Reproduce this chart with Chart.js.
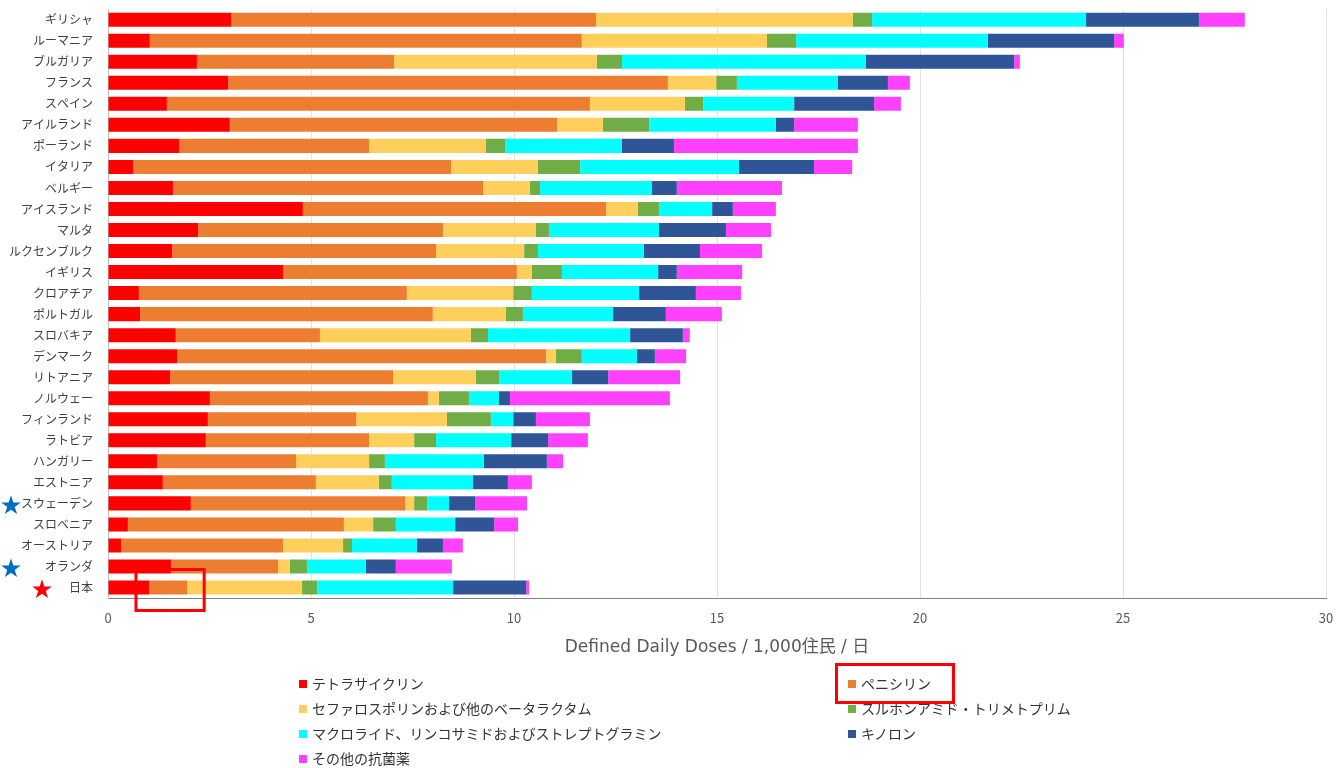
<!DOCTYPE html>
<html lang="ja">
<head>
<meta charset="utf-8">
<title>抗菌薬使用量の国際比較</title>
<script src="https://cdn.jsdelivr.net/npm/chart.js@4/dist/chart.umd.min.js"></script>
<style>
  html, body { margin: 0; padding: 0; background: #ffffff; }
  #wrap { position: relative; width: 1340px; height: 768px; overflow: hidden; }
  #chart { position: absolute; left: 0; top: 0; }
  #legend {
    position: absolute; left: 299px; top: 671px;
    display: grid; grid-template-columns: 549px auto;
    font-family: "Noto Sans CJK JP", "Noto Sans", sans-serif;
    font-size: 14px; color: #333333;
  }
  .item { height: 25px; line-height: 25px; display: flex; align-items: center; white-space: nowrap; }
  .swatch { width: 8px; height: 8px; margin-right: 5px; flex: none; }
  #legendBox {
    position: absolute; left: 835px; top: 663px; width: 120px; height: 41px;
    border: 3px solid #ff0000; box-sizing: border-box; z-index: 2;
  }
</style>
</head>
<body>
<div id="wrap">
  <canvas id="chart" width="1340" height="768"></canvas>
  <div id="legend"></div>
  <div id="legendBox"></div>
</div>
<script>
// Countries, top to bottom
const countries = ['ギリシャ','ルーマニア','ブルガリア','フランス','スペイン','アイルランド','ポーランド','イタリア','ベルギー','アイスランド','マルタ','ルクセンブルク','イギリス','クロアチア','ポルトガル','スロバキア','デンマーク','リトアニア','ノルウェー','フィンランド','ラトビア','ハンガリー','エストニア','スウェーデン','スロベニア','オーストリア','オランダ','日本'];

// DDD per 1,000 inhabitants per day, by antibiotic class
const tetracycline  = [3.03,1.03,2.19,2.96,1.45,3.00,1.75,0.62,1.60,4.80,2.22,1.58,4.31,0.76,0.79,1.67,1.70,1.53,2.51,2.46,2.41,1.21,1.35,2.04,0.49,0.32,1.55,1.01];
const penicillin    = [8.99,10.64,4.86,10.83,10.42,8.06,4.68,7.83,7.64,7.47,6.03,6.50,5.76,6.60,7.21,3.55,9.09,5.49,5.37,3.65,4.02,3.42,3.77,5.28,5.32,3.99,2.64,0.94];
const cephalosporin = [6.33,4.56,4.99,1.19,2.34,1.13,2.88,2.14,1.15,0.78,2.29,2.17,0.37,2.62,1.80,3.72,0.24,2.04,0.27,2.24,1.11,1.80,1.55,0.22,0.72,1.48,0.29,2.83];
const sulfonamide   = [0.47,0.72,0.62,0.51,0.45,1.14,0.47,1.04,0.25,0.52,0.32,0.34,0.74,0.46,0.42,0.42,0.64,0.57,0.74,1.08,0.54,0.39,0.32,0.32,0.56,0.22,0.42,0.37];
const macrolide     = [5.27,4.72,6.01,2.49,2.24,3.12,2.88,3.91,2.76,1.31,2.71,2.61,2.37,2.64,2.22,3.50,1.36,1.80,0.74,0.55,1.85,2.44,2.00,0.54,1.46,1.60,1.45,3.35];
const quinolone     = [2.78,3.11,3.65,1.23,1.97,0.45,1.28,1.85,0.61,0.51,1.65,1.38,0.46,1.40,1.30,1.30,0.44,0.89,0.27,0.56,0.91,1.55,0.86,0.64,0.96,0.64,0.74,1.80];
const otherDrugs    = [1.13,0.24,0.14,0.54,0.66,1.57,4.53,0.94,2.59,1.06,1.11,1.53,1.61,1.11,1.38,0.17,0.77,1.77,3.94,1.33,0.98,0.40,0.59,1.28,0.59,0.49,1.38,0.07];

const seriesNames = ['テトラサイクリン','ペニシリン','セファロスポリンおよび他のベータラクタム','スルホンアミド・トリメトプリム','マクロライド、リンコサミドおよびストレプトグラミン','キノロン','その他の抗菌薬'];
const seriesData  = [tetracycline, penicillin, cephalosporin, sulfonamide, macrolide, quinolone, otherDrugs];
const seriesColors = ['#ff0000','#ed7d31','#ffcf5c','#70ad47','#00ffff','#2f5597','#ff40ff'];

// Axis ticks
const xTicks = [0, 5, 10, 15, 20, 25, 30];
const xTitle = 'Defined Daily Doses / 1,000住民 / 日';

// Star marks beside selected country names
const starMarks = [
  { country: 'スウェーデン', color: '#0070c0', x: 11 },
  { country: 'オランダ',     color: '#0070c0', x: 11 },
  { country: '日本',         color: '#ff0000', x: 42 }
];
// Highlighted segment: Japan's penicillin bar
const highlight = { country: '日本', series: 1 };

const FONT = '"Noto Sans CJK JP", "Noto Sans", sans-serif';
Chart.defaults.font.family = FONT;

const decorations = {
  id: 'decorations',
  afterDraw(chart) {
    const ctx = chart.ctx;
    const ys = chart.scales.y, xs = chart.scales.x;
    ctx.save();
    ctx.font = '21px ' + FONT;
    ctx.textAlign = 'center';
    ctx.textBaseline = 'middle';
    starMarks.forEach(s => {
      const i = countries.indexOf(s.country);
      ctx.fillStyle = s.color;
      ctx.fillText('★', s.x, ys.getPixelForValue(i) + 1);
    });
    // red frame around the highlighted segment
    const i = countries.indexOf(highlight.country);
    let start = 0;
    for (let k = 0; k < highlight.series; k++) start += seriesData[k][i];
    const end = start + seriesData[highlight.series][i];
    const x0 = xs.getPixelForValue(start) - 13;
    const x1 = xs.getPixelForValue(end) + 17;
    const yc = ys.getPixelForValue(i);
    ctx.strokeStyle = '#ff0000';
    ctx.lineWidth = 3;
    ctx.strokeRect(x0, yc - 18, x1 - x0, 41);
    ctx.restore();
  }
};

new Chart(document.getElementById('chart'), {
  type: 'bar',
  data: {
    labels: countries,
    datasets: seriesNames.map((name, k) => ({
      label: name,
      data: seriesData[k],
      backgroundColor: seriesColors[k],
      borderWidth: 0,
      barPercentage: 0.667,
      categoryPercentage: 1
    }))
  },
  options: {
    indexAxis: 'y',
    responsive: false,
    animation: false,
    layout: { padding: { top: 0, right: 14, bottom: 108, left: 0 } },
    plugins: { legend: { display: false }, tooltip: { enabled: false } },
    scales: {
      x: {
        stacked: true,
        min: 0, max: 30,
        afterBuildTicks: s => { s.ticks = xTicks.map(v => ({ value: v })); },
        afterFit: s => { s.height = 62; },
        grid: { color: '#e3e3e3', drawTicks: true, tickLength: 10, tickColor: 'rgba(0,0,0,0)' },
        border: { color: '#808080', width: 1 },
        ticks: { padding: 2, color: '#595959', font: { size: 13 } },
        title: {
          display: true, text: xTitle, color: '#595959',
          font: { size: 17, family: '"DejaVu Sans", "Noto Sans CJK JP", sans-serif' },
          padding: { top: 10, bottom: 2 }
        }
      },
      y: {
        stacked: true,
        afterFit: s => { s.width = 108; },
        grid: { display: false, drawTicks: true, tickLength: 13 },
        border: { color: '#bfbfbf', width: 1 },
        ticks: { padding: 2, color: '#404040', font: { size: 12 }, autoSkip: false }
      }
    }
  },
  plugins: [decorations]
});

// Two-column legend
const legend = document.getElementById('legend');
seriesNames.forEach((name, k) => {
  const item = document.createElement('div');
  item.className = 'item';
  const sw = document.createElement('span');
  sw.className = 'swatch';
  sw.style.background = seriesColors[k];
  const tx = document.createElement('span');
  tx.textContent = name;
  item.appendChild(sw);
  item.appendChild(tx);
  legend.appendChild(item);
});
</script>
</body>
</html>
